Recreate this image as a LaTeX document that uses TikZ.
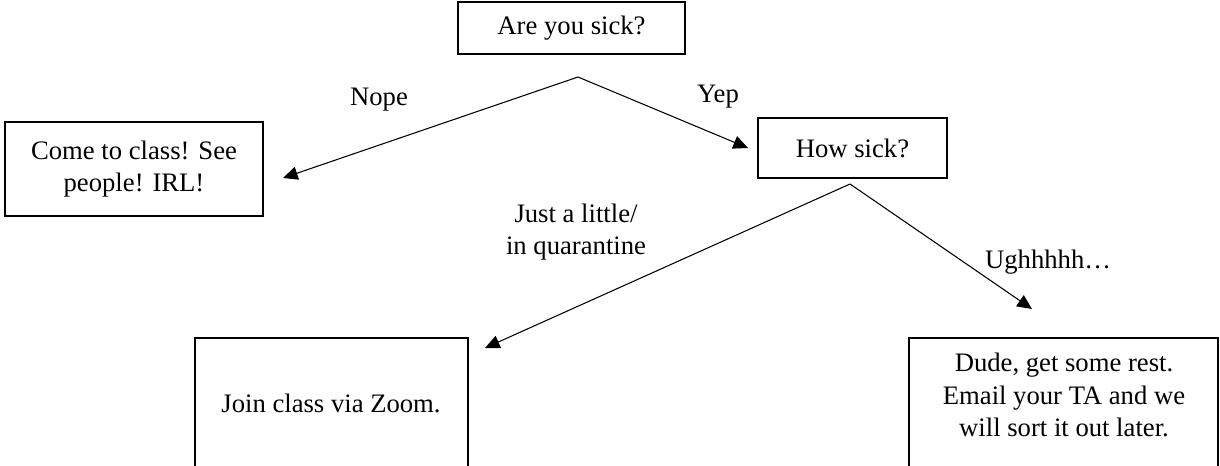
\documentclass[tikz,border=0pt]{standalone}
\usepackage{fontspec}
\setmainfont{Liberation Serif}
\usetikzlibrary{arrows.meta}

\tikzset{
	choice/.style={-{Triangle[length=11pt, width=10pt]}, line width=0.8pt},
	answer/.style={align=center, font=\fontsize{20}{24.4}\selectfont},
}

\begin{document}
\begin{tikzpicture}[x=0.75pt, y=-0.75pt, line width=1pt]
		\useasboundingbox (0,0) rectangle (1220,465);
		\clip (0,0) rectangle (1220,465);
		\draw (458,2) rectangle (685,54) node[midway, answer] (sick) {Are you sick?};
		\draw (5,122) rectangle (263,216) node[midway, answer] (come) {Come to class! See\\people! IRL!};
		\draw (758,118) rectangle (947,178) node[midway, answer] (how) {How sick?};
		\draw (195,338) rectangle (468,520);
		\node[answer] (zoom) at (331,403) {Join class via Zoom.};
		\draw (909,338) rectangle (1218,520);
		\node[answer] (rest) at (1064,395) {Dude, get some rest.\\Email your TA and we\\will sort it out later.};
		% forks under the questions
		\coordinate (fork1) at (578,77);
		\coordinate (nopeend) at (283,178);
		\coordinate (yepend) at (748,148);
		\coordinate (fork2) at (850,184);
		\coordinate (littleend) at (485,348);
		\coordinate (ughend) at (1032,309);
		\draw[choice] (fork1) -- (nopeend);
		\draw[choice] (fork1) -- (yepend);
		\draw[choice] (fork2) -- (littleend);
		\draw[choice] (fork2) -- (ughend);
		\node[answer] (nope) at (379,100) {Nope};
		\node[answer] (yep) at (718,97) {Yep};
		\node[answer] (little) at (576,232) {Just a little/\\in quarantine};
		\node[answer, anchor=west] (ugh) at (980,262) {Ughhhhh…};
	\end{tikzpicture}
\end{document}
